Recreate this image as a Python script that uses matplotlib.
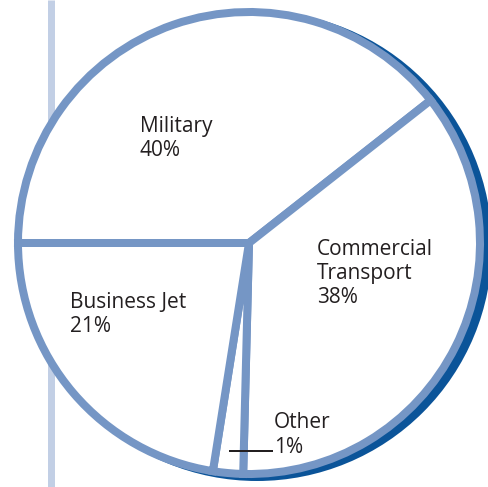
import matplotlib
matplotlib.use("Agg")
import matplotlib.pyplot as plt
from matplotlib.patches import Circle

# Data
categories = ["Military", "Commercial\nTransport", "Other", "Business Jet"]
label_pcts = ["40%", "38%", "1%", "21%"]
# wedge sizes as drawn in the picture
wedge_sizes = [39.4, 36.0, 2.1, 22.5]

W, H = 489, 487
fig = plt.figure(figsize=(W / 100, H / 100), dpi=100)
ax = fig.add_axes([0, 0, 1, 1])
ax.set_xlim(0, W)
ax.set_ylim(0, H)
ax.set_aspect("equal")
ax.axis("off")

light = "#7596c5"
dark = "#0b5499"
pale = "#c2cfe5"

cx, cy = 249, H - 243
r = 231

# vertical pale line behind the pie
ax.plot([50.5, 50.5], [0, H], color=pale, lw=7 * 0.72, solid_capstyle="butt", zorder=0)

# shadow
ax.add_patch(Circle((cx + 8, cy - 3), r + 4, facecolor=dark, edgecolor="none", zorder=1))

wedges, _ = ax.pie(wedge_sizes, startangle=180, counterclock=False, center=(cx, cy), radius=r,
                   colors=["white"] * 4,
                   wedgeprops=dict(edgecolor=light, linewidth=8 * 0.72, linestyle="solid"),
                   frame=True)
for w in wedges:
    w.set_zorder(2)
ax.set_xlim(0, W)
ax.set_ylim(0, H)
ax.axis("off")

fs = 15
txt = dict(fontsize=fs, family=["Open Sans", "DejaVu Sans"], color="#231f20", ha="left", va="baseline", zorder=5)

def put(x, y_base, s):
    ax.text(x, H - y_base, s, **txt)

# Military
put(140, 132, categories[0])
put(140, 156, label_pcts[0])
# Commercial Transport
c_lines = categories[1].split("\n")
put(317, 255, c_lines[0])
put(317, 279, c_lines[1])
put(317, 303, label_pcts[1])
# Other
put(274, 428, categories[2])
put(274, 453, label_pcts[2])
# Business Jet
put(70, 308, categories[3])
put(70, 332, label_pcts[3])

# leader line for Other
ax.plot([230, 272], [H - 451, H - 451], color="#231f20", lw=2 * 0.72, zorder=5)

fig.savefig("out.png", dpi=100)
